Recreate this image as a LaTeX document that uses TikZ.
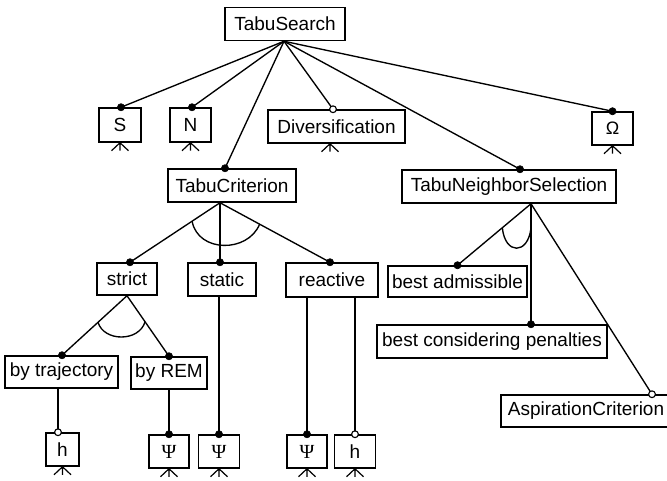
\documentclass[tikz,border=0pt]{standalone}
\usepackage{fontspec}
\setmainfont{Liberation Sans}
\newfontfamily\psifont{Liberation Serif}
\usetikzlibrary{calc}
\begin{document}
\begin{tikzpicture}[x=1pt,y=-1pt,
  box/.style={draw,line width=1.5pt,inner sep=0pt,minimum height=33pt,
    font=\fontsize{19}{21}\selectfont},
  conn/.style={line width=1.35pt},
  mand/.style={fill=black,draw=black,line width=0.6pt},
  opt/.style={fill=white,draw=black,line width=1.1pt},
  foot/.style={line width=1.2pt}]
\useasboundingbox (0,0) rectangle (667,481);
% nodes
\node[box,minimum width=120pt] (TS) at (285,24) {TabuSearch};
\node[box,minimum width=42pt,minimum height=34pt] (S) at (120,125) {S};
\node[box,minimum width=41pt,minimum height=34pt] (N) at (190.5,125) {N};
\node[box,minimum width=137pt] (Div) at (336.5,126.5) {Diversification};
\node[box,minimum width=41pt] (Om) at (612.5,128.5) {\fontsize{18}{20}\selectfont Ω};
\node[box,minimum width=128pt] (TC) at (232,185.5) {TabuCriterion};
\node[box,minimum width=214pt] (TNS) at (509,186.5) {TabuNeighborSelection};
\node[box,minimum width=60pt,minimum height=32pt] (strict) at (127,279) {strict};
\node[box,minimum width=68pt] (static) at (222,279.5) {static};
\node[box,minimum width=92pt,minimum height=34pt] (reactive) at (332,280) {reactive};
\node[box,minimum width=139pt,minimum height=31pt] (BA) at (457.5,281.5) {best admissible};
\node[box,minimum width=230pt] (BCP) at (492,341.5) {best considering penalties};
\node[box,minimum width=170pt,minimum height=32pt] (AC) at (586,411) {AspirationCriterion};
\node[box,minimum width=113pt,minimum height=32pt] (byT) at (61.5,372) {by trajectory};
\node[box,minimum width=76pt,minimum height=32pt] (byR) at (169,373) {by REM};
\node[box,minimum width=33pt] (h1) at (62.5,449.5) {h};
\node[box,minimum width=40pt] (P1) at (169,451.5) {\psifont\fontsize{20}{22}\selectfont Ψ};
\node[box,minimum width=41pt] (P2) at (219,451.5) {\psifont\fontsize{20}{22}\selectfont Ψ};
\node[box,minimum width=40pt] (P3) at (307,451.5) {\psifont\fontsize{20}{22}\selectfont Ψ};
\node[box,minimum width=41pt] (h2) at (355,451.5) {h};
% junction coordinates
\coordinate (jTS) at ([xshift=-1pt]TS.south);
\coordinate (jTC) at ([xshift=-12pt]TC.south);
\coordinate (jTNS) at ([xshift=22pt]TNS.south);
\coordinate (jST) at (strict.south);
% dot coordinates
\coordinate (dS) at ([xshift=1pt]S.north);
\coordinate (dN) at ([xshift=1.5pt]N.north);
\coordinate (dDiv) at ([xshift=-3.5pt]Div.north);
\coordinate (dOm) at (Om.north);
\coordinate (dTC) at ([xshift=-7pt]TC.north);
\coordinate (dTNS) at ([xshift=11pt]TNS.north);
\coordinate (dstrict) at ([xshift=3pt]strict.north);
\coordinate (dstatic) at ([xshift=-2pt]static.north);
\coordinate (dreactive) at ([xshift=-2pt]reactive.north);
\coordinate (dBA) at (BA.north);
\coordinate (dBCP) at ([xshift=39pt]BCP.north);
\coordinate (dAC) at ([xshift=66pt]AC.north);
\coordinate (dbyT) at ([xshift=0.5pt]byT.north);
\coordinate (dbyR) at (byR.north);
\coordinate (dh1) at ([xshift=-4.5pt]h1.north);
\coordinate (dP1) at (P1.north);
\coordinate (dP2) at (P2.north);
\coordinate (dP3) at (P3.north);
\coordinate (dh2) at (h2.north);
% connectors
\foreach \d in {dS,dN,dDiv,dOm,dTC,dTNS}
  \draw[conn] (jTS) -- (\d);
\foreach \d in {dstrict,dstatic,dreactive}
  \draw[conn] (jTC) -- (\d);
\foreach \d in {dbyT,dbyR}
  \draw[conn] (jST) -- (\d);
\draw[conn] (jTNS) -- (dBA);
\draw[conn] (jTNS) -- (jTNS |- dBCP);
\draw[conn] (jTNS) -- (dAC);
\draw[conn] (dh1 |- byT.south) -- (dh1);
\draw[conn] (byR.south) -- (dP1);
\draw[conn] (dP2 |- static.south) -- (dP2);
\draw[conn] (dP3 |- reactive.south) -- (dP3);
\draw[conn] (dh2 |- reactive.south) -- (dh2);
% arcs
\draw[conn] ($(jTC)!0.31!(dstrict)$) .. controls (198,253) and (248,253) .. ($(jTC)!0.36!(dreactive)$);
\draw[conn] ($(jST)!0.446!(dbyT)$) .. controls (104,342) and (139,342) .. ($(jST)!0.43!(dbyR)$);
\draw[conn] ($(jTNS)!0.39!(dBA)$) .. controls (505,255) and (528,255) .. (531,228);
% feet
\foreach \n in {S,N,Om,h1,P1,P2,P3,h2}
  \draw[foot] (\n.south) -- ++(-8.5,8) (\n.south) -- ++(0,8) (\n.south) -- ++(8.5,8);
\draw[foot] ([xshift=-6.5pt]Div.south) -- ++(-8.5,8) ([xshift=-6.5pt]Div.south) -- ++(0,8) ([xshift=-6.5pt]Div.south) -- ++(8.5,8);
% dots
\foreach \d in {dS,dN,dOm,dTC,dTNS,dstrict,dstatic,dreactive,dBA,dBCP,dbyT,dbyR,dP1,dP2,dP3}
  \fill[mand] (\d) circle (3.6);
\foreach \d in {dDiv,dAC,dh1,dh2}
  \draw[opt] (\d) circle (3.4);
\end{tikzpicture}
\end{document}
